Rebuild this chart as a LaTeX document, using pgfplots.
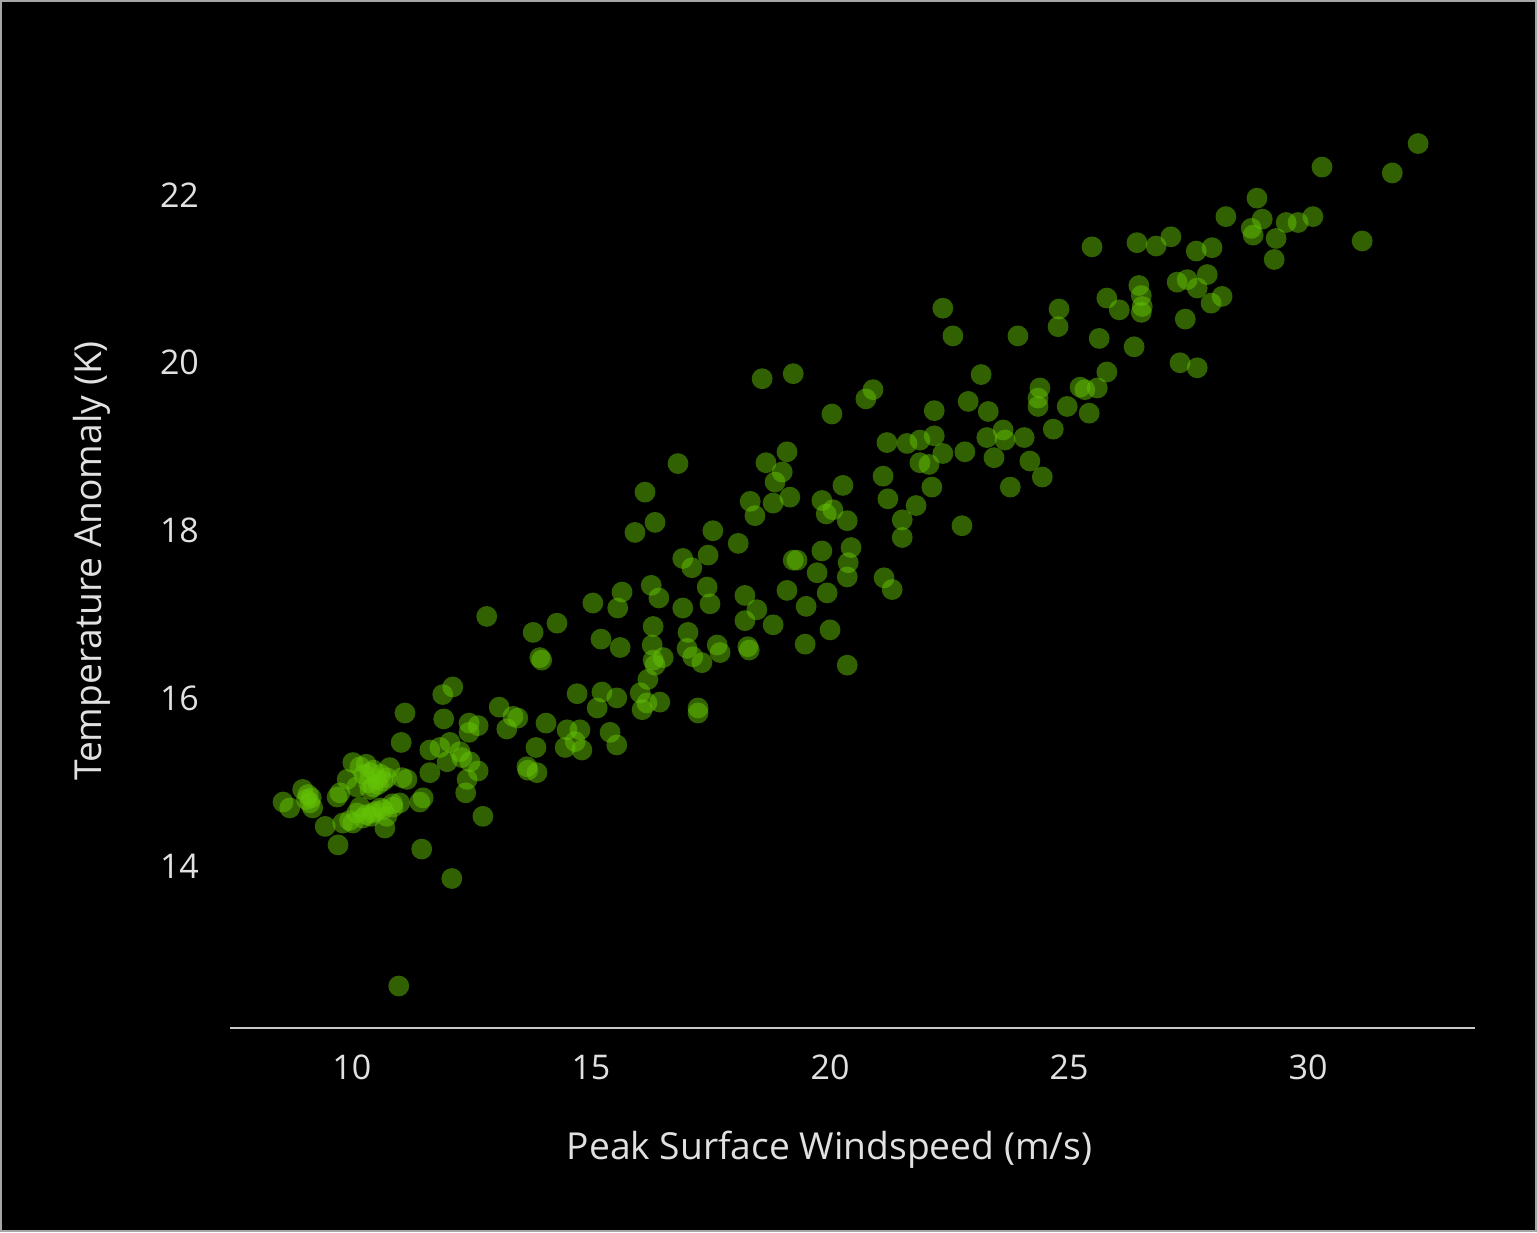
\documentclass[border=0pt]{standalone}
\usepackage{pgfplots}
\usepackage{pgfplotstable}
\pgfplotsset{compat=1.18}
\usepackage{fontspec}
\setmainfont{Open Sans}
\definecolor{nvgreen}{RGB}{100,195,5}
\definecolor{txt}{RGB}{225,225,225}
\pgfplotstableread{
x y
8.56 14.77
8.70 14.70
8.97 14.92
9.08 14.86
9.12 14.76
9.18 14.70
9.05 14.80
9.15 14.82
9.44 14.48
9.71 14.26
9.69 14.83
9.75 14.88
9.81 14.52
9.95 14.55
10.02 14.52
10.23 14.58
10.30 14.62
10.40 14.60
10.44 14.64
10.50 14.66
10.60 14.70
10.65 14.68
10.85 14.75
10.86 14.71
11.00 14.76
10.73 14.60
10.69 14.46
10.02 15.24
10.17 15.19
10.25 15.10
10.30 15.22
10.35 15.00
10.38 15.12
10.45 15.15
10.45 14.95
10.52 15.04
10.55 14.98
10.60 15.10
10.65 15.02
10.73 15.06
10.79 15.18
10.38 14.92
10.10 14.95
9.90 15.04
11.05 15.06
11.15 15.04
10.17 14.71
10.10 14.64
11.49 14.82
11.42 14.77
11.03 15.48
11.11 15.83
11.46 14.21
10.98 12.58
11.63 15.39
11.84 15.42
12.05 15.48
12.26 15.37
12.30 15.30
11.99 15.25
11.63 15.12
12.47 15.25
12.64 15.14
12.41 15.04
12.38 14.88
12.74 14.60
12.09 13.86
12.11 16.14
11.90 16.05
11.92 15.76
12.45 15.71
12.64 15.68
12.45 15.60
13.08 15.90
13.37 15.79
13.47 15.77
13.24 15.64
12.82 16.98
13.68 15.15
13.87 15.12
13.66 15.19
14.06 15.71
13.85 15.42
14.71 16.06
15.23 16.08
15.54 16.01
15.13 15.89
15.40 15.60
15.54 15.45
14.50 15.63
14.77 15.63
14.67 15.49
14.46 15.42
14.81 15.39
14.29 16.90
13.79 16.79
13.93 16.49
13.97 16.46
15.21 16.71
15.61 16.61
15.04 17.14
15.65 17.27
15.56 17.08
16.13 18.46
16.34 18.10
15.92 17.98
16.82 18.80
16.26 17.35
16.42 17.20
16.30 16.86
16.28 16.64
16.30 16.46
16.51 16.49
16.34 16.40
16.19 16.23
16.03 16.07
16.17 15.95
16.44 15.96
16.07 15.87
17.03 16.79
17.01 16.60
17.13 16.50
17.32 16.43
17.64 16.64
17.70 16.55
17.24 15.89
17.24 15.83
16.92 17.08
17.43 17.33
17.49 17.13
16.92 17.67
17.11 17.56
17.45 17.71
17.55 18.00
18.08 17.85
18.22 17.23
18.47 17.06
18.22 16.93
18.81 16.88
18.28 16.62
18.31 16.58
18.33 18.35
18.43 18.18
18.81 18.33
19.16 18.40
18.66 18.81
19.10 18.94
19.00 18.70
18.85 18.58
18.58 19.81
19.23 19.87
20.04 19.39
20.90 19.68
20.75 19.57
19.23 17.65
19.31 17.65
19.83 17.76
20.44 17.80
20.38 17.62
20.36 17.45
19.73 17.50
19.10 17.29
19.94 17.26
19.50 17.10
20.00 16.82
19.48 16.65
20.36 16.40
20.27 18.54
19.83 18.36
20.06 18.25
20.36 18.12
19.92 18.20
21.19 19.05
21.61 19.04
21.88 19.08
22.18 19.13
22.36 18.92
21.88 18.81
22.07 18.79
21.11 18.65
21.21 18.38
21.80 18.30
21.51 18.13
21.51 17.92
22.13 18.52
21.13 17.44
21.30 17.30
22.76 18.06
22.82 18.94
23.28 19.11
23.62 19.20
23.66 19.08
24.06 19.11
23.43 18.87
24.18 18.83
24.44 18.64
23.77 18.52
22.18 19.43
22.89 19.54
23.16 19.86
23.31 19.42
22.36 20.65
22.57 20.32
23.93 20.32
24.39 19.70
24.35 19.58
24.35 19.48
24.96 19.48
25.23 19.71
25.33 19.68
25.59 19.70
25.42 19.40
24.67 19.21
24.79 20.64
24.77 20.43
25.63 20.29
25.79 20.77
26.05 20.63
26.36 20.19
25.79 19.89
25.48 21.38
26.42 21.43
26.82 21.39
27.13 21.50
27.66 21.33
27.99 21.37
26.46 20.92
26.51 20.80
26.53 20.67
26.51 20.60
27.26 20.96
27.47 20.99
27.68 20.89
27.89 21.05
27.97 20.71
28.20 20.79
27.43 20.52
27.32 20.00
27.68 19.94
28.93 21.96
28.28 21.74
28.81 21.60
28.85 21.52
29.04 21.71
29.54 21.67
29.79 21.67
30.10 21.74
29.33 21.48
29.29 21.23
31.13 21.45
30.29 22.33
31.76 22.26
32.30 22.61
}\data
\begin{document}
\begin{tikzpicture}
\fill[black] (-115pt,-102pt) rectangle (653.5pt,514pt);
\draw[gray!70, line width=1pt] (-114.5pt,-101.5pt) rectangle (653pt,513.5pt);
\begin{axis}[
  at={(0,0)}, anchor=south west,
  scale only axis, width=622.5pt, height=467pt,
  xmin=7.45, xmax=33.49, ymin=12.08, ymax=23.2,
  axis x line*=bottom, axis y line*=left,
  x axis line style={-, draw={rgb,255:red,200;green,200;blue,200}, line width=1pt},
  y axis line style={draw=none},
  major tick length=0pt,
  xtick={10,15,20,25,30}, ytick={14,16,18,20,22},
  /pgf/number format/assume math mode=true,
  ticklabel style={font=\fontsize{17}{17}\selectfont, text=txt},
  xticklabel style={yshift=-10pt},
  yticklabel style={xshift=-12pt},
  xlabel={Peak Surface Windspeed (m/s)},
  ylabel={Temperature Anomaly (K)},
  label style={font=\fontsize{18.6}{18.6}\selectfont, text=txt},
  xlabel style={at={(axis description cs:0.4815,-0.1306)}, anchor=center},
  ylabel style={at={(axis description cs:-0.1108,0.5)}, anchor=center, rotate=0},
  clip=false,
]
\addplot[only marks, draw=none, mark=*, mark size=5.2pt,
  mark options={fill=nvgreen, draw=none, draw opacity=0, fill opacity=0.5}] table {\data};
\end{axis}
\end{tikzpicture}
\end{document}
